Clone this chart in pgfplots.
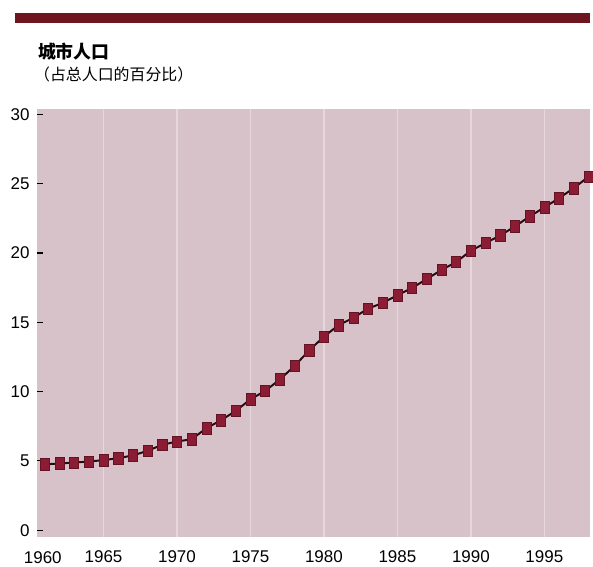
\documentclass[border=0pt]{standalone}
\usepackage{pgfplots}
\pgfplotsset{compat=1.18}
\usepackage{fontspec}
\setmainfont{Liberation Sans}
\newfontfamily\cjk{Noto Sans CJK SC}

\definecolor{bgpink}{RGB}{216,194,201}
\definecolor{barred}{RGB}{110,22,32}
\definecolor{markred}{RGB}{140,28,52}
\definecolor{linedark}{RGB}{40,10,16}

\pgfplotstableread{
year share
1961 4.75
1962 4.82
1963 4.88
1964 4.96
1965 5.06
1966 5.20
1967 5.40
1968 5.73
1969 6.17
1970 6.40
1971 6.57
1972 7.36
1973 7.94
1974 8.61
1975 9.45
1976 10.05
1977 10.88
1978 11.85
1979 12.98
1980 13.97
1981 14.80
1982 15.32
1983 15.99
1984 16.40
1985 16.96
1986 17.48
1987 18.13
1988 18.78
1989 19.35
1990 20.17
1991 20.72
1992 21.27
1993 21.92
1994 22.64
1995 23.29
1996 23.96
1997 24.68
1998 25.50
}\urban

\begin{document}
\begin{tikzpicture}
  % page frame in pixel units (1px = 0.75pt)
  \begin{scope}[x=0.75pt,y=0.75pt]
    \useasboundingbox (0,0) rectangle (593,567);
    \fill[barred] (15,544) rectangle (593,554);
    \node[anchor=west,inner sep=0pt,font=\cjk\bfseries\fontsize{13.5}{15}\selectfont] at (38,515) {城市人口};
    \node[anchor=west,inner sep=0pt,font=\cjk\fontsize{12}{14}\selectfont] at (34,492) {（占总人口的百分比）};
  \end{scope}

  \begin{axis}[
    at={(27.75pt,20.25pt)}, anchor=south west,
    scale only axis,
    width=417pt, height=322.5pt,
    xmin=1960.46, xmax=1998.1,
    ymin=-0.5, ymax=30.36,
    clip=false,
    axis line style={draw=none},
    axis background/.style={fill=bgpink},
    xtick={1965,1970,...,1995},
    ytick={0,5,...,30},
    ytick pos=left,
    tick align=inside,
    major x tick style={draw=none},
    major y tick style={black, line width=0.8pt},
    major tick length=5pt,
    xmajorgrids,
    grid style={white, opacity=0.35, line width=1.2pt},
    tick label style={font=\fontsize{12.8}{14}\selectfont, text=black},
    yticklabel style={xshift=-2pt},
    xticklabel style={yshift=-6.5pt},
    /pgf/number format/1000 sep={},
    /pgf/number format/assume math mode=true,
  ]
    \addplot[linedark, line width=1.5pt, mark=square*, mark size=4.3pt,
      mark options={fill=markred, draw=markred!70!black, line width=0.4pt, xscale=0.8}]
      table[x=year, y=share] {\urban};
    \node[anchor=north, font=\fontsize{12.8}{14}\selectfont, inner sep=0pt]
      at (rel axis cs:0,0) [xshift=4.5pt, yshift=-11pt] {1960};
  \end{axis}
\end{tikzpicture}
\end{document}
